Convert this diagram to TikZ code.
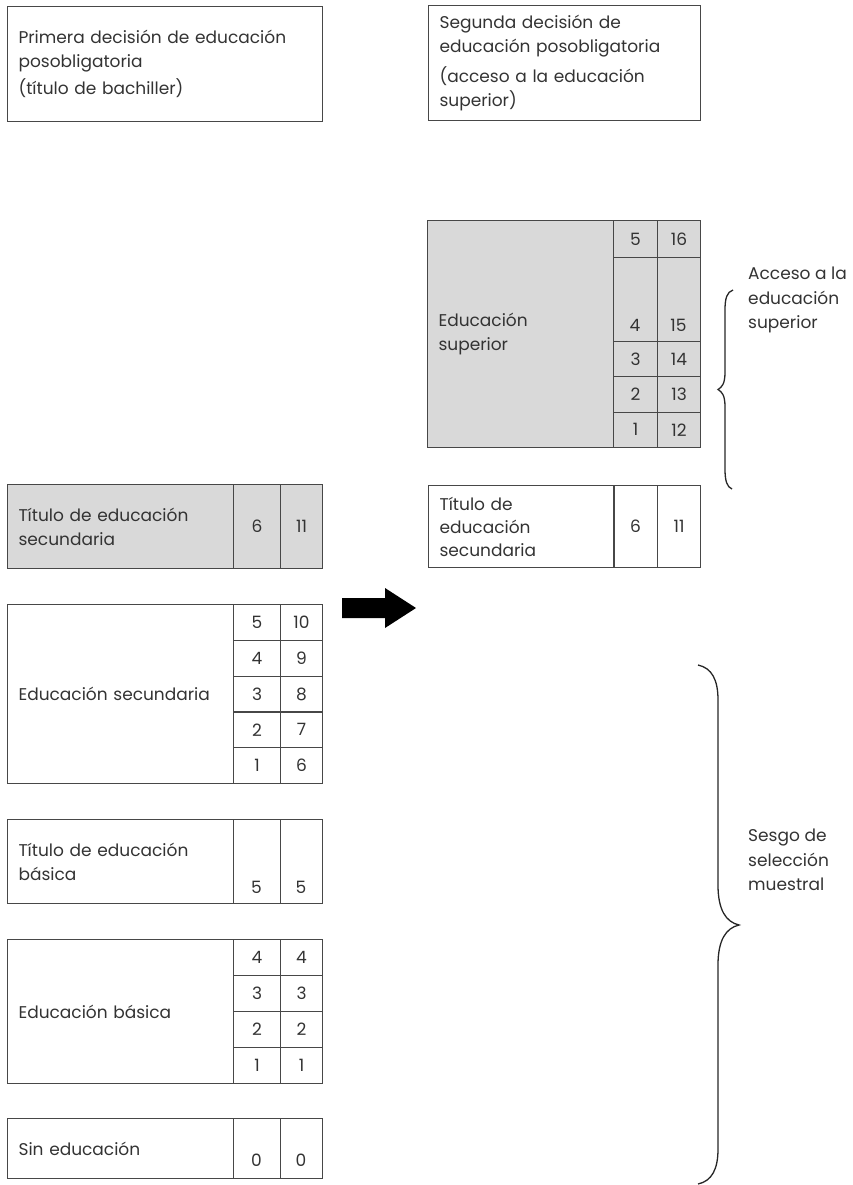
\documentclass[tikz,border=0pt]{standalone}
\usepackage{fontspec}
\setmainfont{Poppins}
\definecolor{linegray}{HTML}{474747}
\definecolor{textgray}{HTML}{333333}
\definecolor{cellfill}{HTML}{D9D9D9}

\begin{document}
\begin{tikzpicture}[x=1pt, y=-1pt,
  cell/.style={draw=linegray, line width=1.1pt, rectangle, inner sep=0pt,
    anchor=north west, text=textgray, font=\fontsize{17}{24}\selectfont},
  labelcell/.style={cell, align=left, inner xsep=11pt},
  numtext/.style={inner sep=0pt, text=textgray, font=\fontsize{17}{24}\selectfont},
  shaded/.style={fill=cellfill},
  bracket/.style={draw=black!85, line width=1.3pt},
  bracketlabel/.style={anchor=west, align=left, inner sep=0pt, text=textgray,
    font=\fontsize{17}{24.5}\selectfont}]

  \useasboundingbox (0,0) rectangle (853,1185);

  %=====================================================================
  % Headings
  %=====================================================================
  \node[labelcell, text width=293pt, minimum height=115pt] (first) at (7,6)
    {Primera decisión de educación\\ posobligatoria\\[3pt] (título de bachiller)};
  \node[labelcell, text width=250pt, minimum height=115pt] (second) at (428,5)
    {Segunda decisión de\\ educación posobligatoria\\[6pt] (acceso a la educación\\ superior)};

  %=====================================================================
  % Left column: first decision
  %=====================================================================
  % título de educación secundaria (shaded)
  \node[labelcell, shaded, text width=204pt, minimum height=84pt] (tsec) at (7,484)
    {Título de educación\\ secundaria};
  \node[cell, shaded, minimum width=47pt, minimum height=84pt] (tsec-a) at (233,484) {6};
  \node[cell, shaded, minimum width=42pt, minimum height=84pt] (tsec-b) at (280,484) {11};

  % educación secundaria
  \node[labelcell, text width=204pt, minimum height=179pt] (sec) at (7,604)
    {Educación secundaria};
  \foreach \a/\b [count=\i from 0] in {5/10,4/9,3/8,2/7,1/6} {
    \node[cell, minimum width=47pt, minimum height=35.8pt] (sec-a\a) at (233,604+35.8*\i) {\a};
    \node[cell, minimum width=42pt, minimum height=35.8pt] (sec-b\a) at (280,604+35.8*\i) {\b};
  }

  % título de educación básica (numbers sit low)
  \node[labelcell, text width=204pt, minimum height=84pt] (tbas) at (7,819)
    {Título de educación\\ básica};
  \node[cell, minimum width=47pt, minimum height=84pt] (tbas-a) at (233,819) {};
  \node[cell, minimum width=42pt, minimum height=84pt] (tbas-b) at (280,819) {};
  \node[numtext] (tbas-a5) at (256.5,887) {5};
  \node[numtext] (tbas-b5) at (301,887) {5};

  % educación básica
  \node[labelcell, text width=204pt, minimum height=144pt] (bas) at (7,939)
    {Educación básica};
  \foreach \a [count=\i from 0] in {4,3,2,1} {
    \node[cell, minimum width=47pt, minimum height=36pt] (bas-a\a) at (233,939+36*\i) {\a};
    \node[cell, minimum width=42pt, minimum height=36pt] (bas-b\a) at (280,939+36*\i) {\a};
  }

  % sin educación
  \node[labelcell, text width=204pt, minimum height=60pt] (none) at (7,1118)
    {Sin educación};
  \node[cell, minimum width=47pt, minimum height=60pt] (none-a) at (233,1118) {};
  \node[cell, minimum width=42pt, minimum height=60pt] (none-b) at (280,1118) {};
  \node[numtext] (none-a0) at (256.5,1160) {0};
  \node[numtext] (none-b0) at (301,1160) {0};

  %=====================================================================
  % Arrow between the two decisions
  %=====================================================================
  \fill[black] (342,598) -- (385,598) -- (385,588) -- (416,608)
    -- (385,628) -- (385,618) -- (342,618) -- cycle;

  %=====================================================================
  % Right column: second decision
  %=====================================================================
  % educación superior (shaded), row for 4/15 is tall
  \node[labelcell, shaded, text width=164pt, minimum height=227pt] (sup) at (427,220)
    {Educación\\ superior};
  \node[cell, shaded, minimum width=44pt, minimum height=37pt] (sup-a5) at (613,220) {5};
  \node[cell, shaded, minimum width=43pt, minimum height=37pt] (sup-b5) at (657,220) {16};
  \node[cell, shaded, minimum width=44pt, minimum height=84pt] (sup-a4) at (613,257) {};
  \node[cell, shaded, minimum width=43pt, minimum height=84pt] (sup-b4) at (657,257) {};
  \node[numtext] (sup-a4n) at (635,325) {4};
  \node[numtext] (sup-b4n) at (678.5,325) {15};
  \foreach \a/\b [count=\i from 0] in {3/14,2/13,1/12} {
    \node[cell, shaded, minimum width=44pt, minimum height=35.3pt] (sup-a\a) at (613,341+35.3*\i) {\a};
    \node[cell, shaded, minimum width=43pt, minimum height=35.3pt] (sup-b\a) at (657,341+35.3*\i) {\b};
  }

  % título de educación secundaria
  \node[labelcell, text width=164pt, minimum height=82pt, font=\fontsize{17}{23}\selectfont] (tsec2) at (428,485)
    {Título de\\ educación\\ secundaria};
  \node[cell, minimum width=44pt, minimum height=82pt] (tsec2-a) at (613,485) {6};
  \node[cell, minimum width=43pt, minimum height=82pt] (tsec2-b) at (657,485) {11};

  %=====================================================================
  % Braces
  %=====================================================================
  % access to higher education
  \draw[bracket] (733,290) .. controls (727,292) and (725,298) .. (725,310)
    -- (725,372) .. controls (725,384) and (722,387) .. (718,389.5)
    .. controls (722,392) and (725,395) .. (725,407)
    -- (725,469) .. controls (725,481) and (727,487) .. (732,489);
  \node[bracketlabel] (access) at (748,300) {Acceso a la\\ educación\\ superior};

  % selection bias
  \draw[bracket] (698,665) .. controls (712,668) and (718,680) .. (718,700)
    -- (718,885) .. controls (718,910) and (726,922) .. (739,925)
    .. controls (726,928) and (718,940) .. (718,965)
    -- (718,1149) .. controls (718,1169) and (712,1181) .. (698,1184);
  \node[bracketlabel] (bias) at (748,860) {Sesgo de\\ selección\\ muestral};

\end{tikzpicture}
\end{document}
